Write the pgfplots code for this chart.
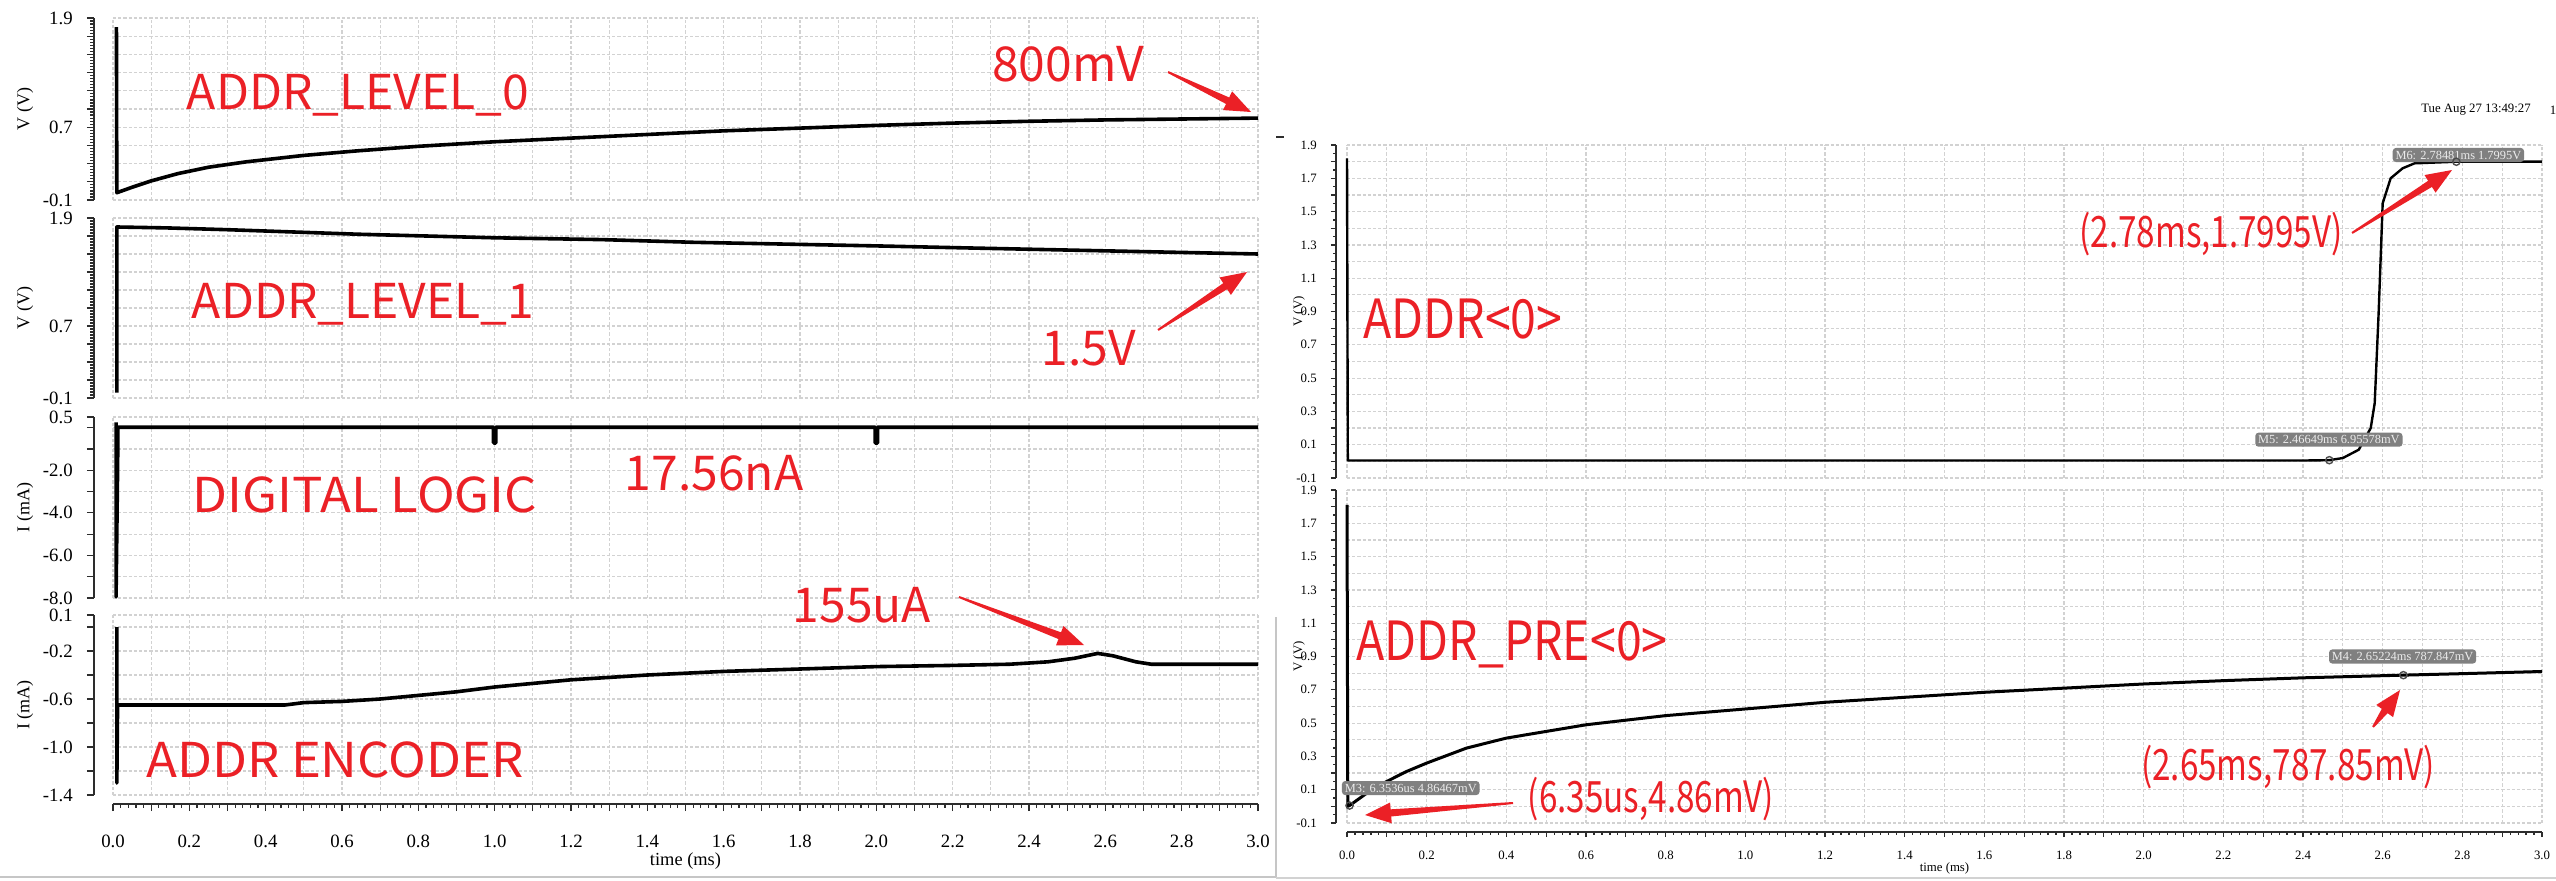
\documentclass[border=0pt]{standalone}
\usepackage{fontspec}
\setmainfont{Liberation Serif}
\newfontfamily\annfont{Noto Sans CJK SC}
\usepackage{pgfplots}
\pgfplotsset{compat=1.18}
\usetikzlibrary{calc}

\definecolor{annred}{RGB}{235,32,38}
\definecolor{gridgray}{RGB}{210,210,210}
\definecolor{rulegray}{RGB}{45,45,45}
\definecolor{boxfill}{RGB}{128,128,128}

\pgfplotsset{
  wave/.style={
    scale only axis, clip=false,
    xmin=0, xmax=3,
    axis x line*=bottom, axis y line*=left,
    axis line style={rulegray, line width=0.5pt},
    tick align=outside,
    every tick/.style={rulegray, line width=0.3pt},
    grid=major,
    major grid style={gridgray, dash pattern=on 0.8pt off 0.5pt, line width=0.3pt},
    xtick={0,0.1,0.2,0.3,0.4,0.5,0.6,0.7,0.8,0.9,1.0,1.1,1.2,1.3,1.4,1.5,1.6,1.7,1.8,1.9,2.0,2.1,2.2,2.3,2.4,2.5,2.6,2.7,2.8,2.9,3.0},
    minor x tick num=4,
  },
  nox/.style={xticklabel=\empty, x axis line style={draw=none}, xtick style={draw=none}, minor x tick num=0},
  withx/.style={
    xticklabels={0.0,,0.2,,0.4,,0.6,,0.8,,1.0,,1.2,,1.4,,1.6,,1.8,,2.0,,2.2,,2.4,,2.6,,2.8,,3.0},
    xlabel={time (ms)}},
  leftpanel/.style={wave, width=286.25pt,
    axis y line shift=4.75pt, axis x line shift=2.25pt,
    major tick length=1.8pt, minor tick length=0.9pt,
    ticklabel style={font=\fontsize{4.7}{5}\selectfont},
    xticklabel style={yshift=-2.5pt},
    every axis y label/.style={at={(rel axis cs:0,0.5)}, xshift=-22pt, rotate=90, anchor=center,
      font=\fontsize{4.5}{5}\selectfont},
    every axis x label/.style={at={(rel axis cs:0.5,0)}, yshift=-16.5pt, anchor=center,
      font=\fontsize{4.6}{5}\selectfont}},
  rightpanel/.style={wave, width=298.75pt, height=83.25pt,
    axis y line shift=2.75pt, axis x line shift=2.25pt,
    major tick length=1.3pt, minor tick length=0.7pt,
    ticklabel style={font=\fontsize{3.2}{4}\selectfont},
    every axis y label/.style={at={(rel axis cs:0,0.5)}, xshift=-12pt, rotate=90, anchor=center,
      font=\fontsize{3.2}{4}\selectfont},
    every axis x label/.style={at={(rel axis cs:0.5,0)}, yshift=-11.25pt, anchor=center,
      font=\fontsize{3.2}{4}\selectfont},
    ymin=-0.1, ymax=1.9,
    ytick={-0.1,0.0,0.1,0.2,0.3,0.4,0.5,0.6,0.7,0.8,0.9,1.0,1.1,1.2,1.3,1.4,1.5,1.6,1.7,1.8,1.9},
    yticklabels={-0.1,,0.1,,0.3,,0.5,,0.7,,0.9,,1.1,,1.3,,1.5,,1.7,,1.9},
    minor y tick num=1, ylabel={V (V)}},
  trace/.style={black, line width=0.9pt, line join=round},
  mk/.style={only marks, mark=o, mark size=0.9pt, mark options={draw=gray!60!black, line width=0.35pt}},
}
\tikzset{
  mbox/.style={fill=boxfill, text=white!85!gray, rounded corners=0.8pt, inner sep=0.7pt,
    font=\fontsize{3.1}{3.5}\selectfont},
  ann/.style={annred, anchor=base, inner sep=0pt, font=\annfont\fontsize{12}{12}\selectfont},
  annW/.style={ann, xscale=1.06, transform shape},
  annR/.style={ann, font=\annfont\fontsize{13.5}{13.5}\selectfont, xscale=0.86, transform shape},
  annC/.style={ann, font=\annfont\fontsize{10.8}{10.8}\selectfont, xscale=0.77, transform shape},
}
% tapered red arrow: thin tail, wide barbed head
\newcommand{\tarrow}[2]{%
  \coordinate (ta) at #1; \coordinate (tb) at #2;
  \coordinate (th) at ($(tb)!6.5pt!(ta)$);
  \coordinate (tn) at ($(tb)!5pt!(ta)$);
  \fill[annred] ($(ta)!0.25pt!90:(tb)$) -- ($(th)!0.9pt!-90:(ta)$) -- ($(th)!2.6pt!-90:(ta)$)
    -- (tb) -- ($(th)!2.6pt!90:(ta)$) -- ($(th)!0.9pt!90:(ta)$) -- ($(ta)!0.25pt!-90:(tb)$) -- cycle;}

\begin{document}
\begin{tikzpicture}
% ---------------- left panel ----------------
\begin{axis}[leftpanel, nox, at={(28.25pt,170pt)}, anchor=south west, height=45.5pt,
  ymin=-0.1, ymax=1.9, ytick={-0.1,0.1,0.3,0.5,0.7,0.9,1.1,1.3,1.5,1.7,1.9},
  yticklabels={-0.1,,,,0.7,,,,,,1.9}, minor y tick num=5, ylabel={V (V)}]
\addplot[trace] coordinates {(0.009,1.80)(0.010,-0.02)(0.05,0.04)(0.1,0.11)(0.17,0.19)(0.25,0.26)(0.35,0.32)(0.5,0.39)(0.64,0.44)(0.8,0.49)(1.0,0.54)(1.2,0.58)(1.4,0.62)(1.6,0.66)(1.8,0.69)(2.0,0.72)(2.2,0.745)(2.4,0.765)(2.6,0.78)(2.8,0.79)(3.0,0.80)};
\end{axis}
\begin{axis}[leftpanel, nox, at={(28.25pt,120.5pt)}, anchor=south west, height=45pt,
  ymin=-0.1, ymax=1.9, ytick={-0.1,0.1,0.3,0.5,0.7,0.9,1.1,1.3,1.5,1.7,1.9},
  yticklabels={-0.1,,,,0.7,,,,,,1.9}, minor y tick num=5, ylabel={V (V)}]
\addplot[trace] coordinates {(0.01,-0.04)(0.01,1.80)(0.14,1.79)(0.3,1.77)(0.64,1.72)(1.0,1.68)(1.28,1.66)(1.52,1.63)(2.0,1.59)(2.21,1.57)(2.6,1.535)(3.0,1.50)};
\end{axis}
\begin{axis}[leftpanel, nox, at={(28.25pt,70.5pt)}, anchor=south west, height=45.25pt,
  ymin=-8, ymax=0.5, ytick={-8,-7,-6,-5,-4,-3,-2,-1,0,0.5},
  yticklabels={-8.0,,-6.0,,-4.0,,-2.0,,,0.5}, minor y tick num=2, ylabel={I (mA)}]
\addplot[trace] coordinates {(0.008,0.25)(0.008,-7.95)(0.012,-2.0)(0.013,0.02)(0.997,0.02)(0.997,-0.72)(1.003,-0.72)(1.003,0.02)(1.997,0.02)(1.997,-0.72)(2.003,-0.72)(2.003,0.02)(3.0,0.02)};
\end{axis}
\begin{axis}[leftpanel, withx, at={(28.25pt,21.25pt)}, anchor=south west, height=45pt,
  ymin=-1.4, ymax=0.1, ytick={-1.4,-1.2,-1.0,-0.8,-0.6,-0.4,-0.2,0,0.1},
  yticklabels={-1.4,,-1.0,,-0.6,,-0.2,,0.1}, minor y tick num=3, ylabel={I (mA)}]
\addplot[trace] coordinates {(0.01,0.0)(0.01,-1.30)(0.012,-0.65)(0.45,-0.65)(0.5,-0.63)(0.6,-0.62)(0.7,-0.60)(0.8,-0.57)(0.9,-0.54)(1.0,-0.50)(1.1,-0.47)(1.2,-0.44)(1.3,-0.42)(1.4,-0.40)(1.6,-0.37)(1.8,-0.35)(2.0,-0.33)(2.2,-0.32)(2.35,-0.31)(2.45,-0.29)(2.52,-0.26)(2.58,-0.22)(2.62,-0.24)(2.68,-0.29)(2.72,-0.31)(3.0,-0.31)};
\end{axis}

% ---------------- right panel ----------------
\begin{axis}[rightpanel, nox, at={(336.75pt,100.5pt)}, anchor=south west]
\addplot[trace, line width=0.6pt] coordinates {(0,1.82)(0.002,0.005)(2.40,0.005)(2.466,0.007)(2.50,0.02)(2.54,0.07)(2.57,0.2)(2.58,0.35)(2.59,0.9)(2.60,1.55)(2.62,1.70)(2.65,1.76)(2.68,1.79)(2.785,1.7995)(3.0,1.80)};
\addplot[mk] coordinates {(2.466,0.007)(2.785,1.7995)};
\node[mbox] at (axis cs:2.465,0.13) {M5: 2.46649ms 6.95578mV};
\node[mbox] at (axis cs:2.79,1.84) {M6: 2.78481ms 1.7995V};
\end{axis}
\begin{axis}[rightpanel, withx, at={(336.75pt,14.25pt)}, anchor=south west]
\addplot[trace, line width=0.75pt] coordinates {(0,1.81)(0.002,0.0)(0.00635,0.00486)(0.05,0.08)(0.1,0.15)(0.15,0.21)(0.2,0.26)(0.3,0.35)(0.4,0.41)(0.5,0.45)(0.6,0.49)(0.8,0.545)(1.0,0.585)(1.2,0.625)(1.4,0.655)(1.6,0.685)(1.8,0.71)(2.0,0.735)(2.2,0.755)(2.4,0.772)(2.65,0.788)(2.8,0.797)(3.0,0.81)};
\addplot[mk] coordinates {(0.00635,0.00486)(2.652,0.788)};
\node[mbox] at (axis cs:0.16,0.11) {M3: 6.3536us 4.86467mV};
\node[mbox] at (axis cs:2.65,0.90) {M4: 2.65224ms 787.847mV};
\end{axis}

% ---------------- annotations (pixel grid, origin bottom left) ----------------
\begin{scope}[x=0.25pt,y=0.25pt]
\node[ann] at (358,770) {ADDR\_LEVEL\_0};
\node[ann] at (1068,798) {800mV};
\tarrow{(1168,808)}{(1251,768)}
\node[ann] at (363,562) {ADDR\_LEVEL\_1};
\node[ann] at (1089,515) {1.5V};
\tarrow{(1158,550)}{(1247,608)}
\node[annW] at (365,368) {DIGITAL LOGIC};
\node[ann] at (714,390) {17.56nA};
\node[ann] at (862,258) {155uA};
\tarrow{(959,283)}{(1084,235)}
\node[annW] at (335,103) {ADDR ENCODER};
\node[annR] at (1463,542) {ADDR<0>};
\node[annC] at (2211,632) {(2.78ms,1.7995V)};
\tarrow{(2352,647)}{(2452,710)}
\node[annR] at (1512,220) {ADDR\_PRE<0>};
\node[annC] at (1651,68) {(6.35us,4.86mV)};
\tarrow{(1513,77)}{(1365,65)}
\node[annC] at (2288,100) {(2.65ms,787.85mV)};
\tarrow{(2373,153)}{(2400,190)}

% header and frame lines
\node[font=\fontsize{3.2}{4}\selectfont, inner sep=0pt] at (2476,770) {Tue Aug 27 13:49:27};
\node[font=\fontsize{3.2}{4}\selectfont, inner sep=0pt] at (2553,770) {1};
\draw[gray!45, line width=0.4pt] (0,3) -- (1276,3);
\draw[gray!45, line width=0.4pt] (1276,263) -- (1276,3);
\draw[gray!35, line width=0.4pt] (1276,2) -- (2556,2);
\draw[rulegray, line width=0.5pt] (1276,743) -- (1284,743);
\end{scope}

\pgfresetboundingbox
\path[use as bounding box] (0,0) rectangle (639pt,220pt);
\end{tikzpicture}
\end{document}
